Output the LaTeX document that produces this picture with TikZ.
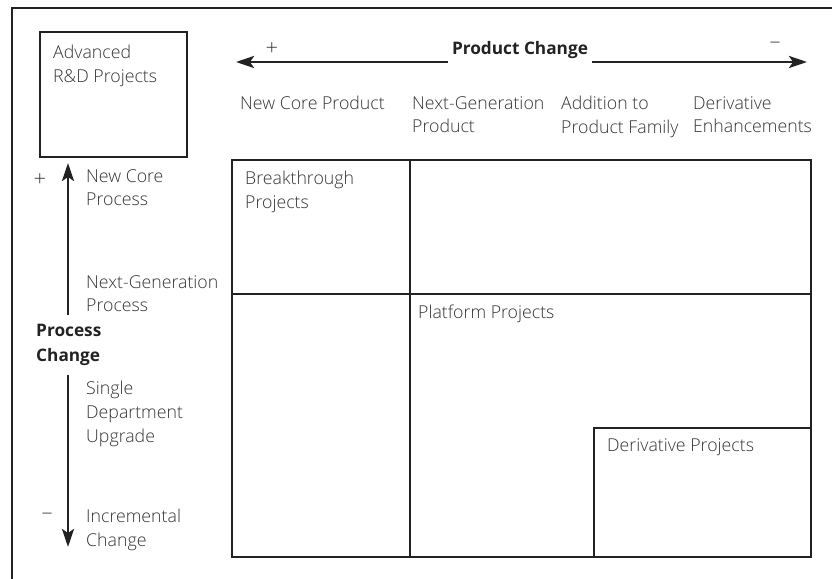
\documentclass[tikz,border=0pt]{standalone}
\usepackage{fontspec}
\setmainfont{Open Sans}[UprightFont=* Light, BoldFont=* Bold]
\usetikzlibrary{arrows.meta}
\definecolor{inkline}{RGB}{34,34,34}
\definecolor{inktext}{RGB}{52,52,52}

\begin{document}
\begin{tikzpicture}[x=1bp,y=-1bp,
  lbl/.style={anchor=north west,inner sep=0pt,align=left,text=inktext,
    font=\fontsize{17.8}{24}\selectfont},
  head/.style={lbl,text=inkline,font=\fontsize{17.3}{25}\selectfont\bfseries},
  sign/.style={inner sep=0pt,text=inktext,font=\fontsize{22}{22}\selectfont},
  frame/.style={draw=inkline,line width=1.8bp},
  axis/.style={draw=inkline,line width=2.6bp,-{Stealth[length=18bp,width=12bp,inset=4bp]}}]
\useasboundingbox (0,0) rectangle (832,579);
\draw[frame] (832,8) -- (12,8) -- (12,579);
% advanced R&D box
\draw[frame] (40,32) rectangle (187,157);
\node[lbl] (advrd) at (53,45) {Advanced\\R\&D Projects};
% project grid
\draw[frame] (232,160) rectangle (811,557);
\draw[frame] (410,160) -- (410,557);
\draw[frame] (232,294) -- (811,294);
\draw[frame] (594,428) rectangle (811,557);
\node[lbl] (brkthr) at (245,171) {Breakthrough\\Projects};
\node[lbl] (platf) at (418,305) {Platform Projects};
\node[lbl] (deriv) at (607,438) {Derivative Projects};
% product change axis
\node[head,anchor=base,inner xsep=4bp] (prodchg) at (520,55) {Product Change};
\coordinate (prodplus) at (236,62);
\coordinate (prodminus) at (807,62);
\draw[axis] (prodchg.west |- prodplus) -- (prodplus);
\draw[axis] (prodchg.east |- prodminus) -- (prodminus);
\node[sign] (prodp) at (272,49) {+};
\node[sign] (prodm) at (775,45) {–};
\foreach \n/\x/\t in {newcore/240/New Core Product,nextgen/412/Next-Generation\\Product,
    addfam/561/Addition to\\Product Family,derenh/693/Derivative\\Enhancements}
  \node[lbl] (col\n) at (\x,96) {\t};
% process change axis
\node[head,inner ysep=9bp] (procchg) at (36,315) {Process\\Change};
\coordinate (procplus) at (68,163);
\coordinate (procminus) at (68,547);
\draw[axis] (procchg.north -| procplus) -- (procplus);
\draw[axis] (procchg.south -| procminus) -- (procminus);
\node[sign] (procp) at (40,180) {+};
\node[sign] (procm) at (47,516) {–};
\foreach \n/\y/\t in {newproc/169/New Core\\Process,nextproc/275/Next-Generation\\Process,
    single/381/Single\\Department\\Upgrade,incr/509/Incremental\\Change}
  \node[lbl] (row\n) at (86,\y) {\t};
\end{tikzpicture}
\end{document}
